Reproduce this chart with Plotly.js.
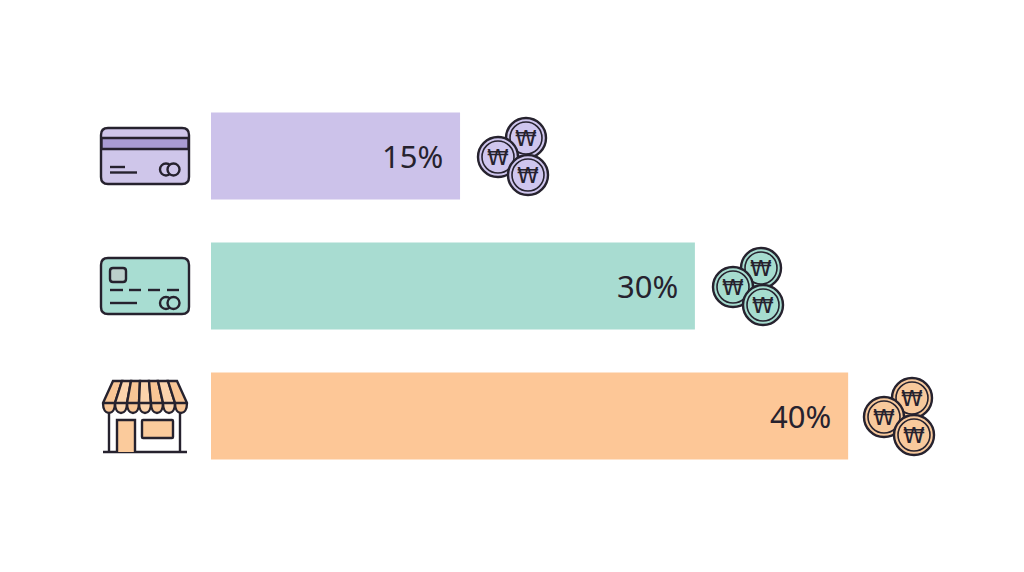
<!DOCTYPE html>
<html><head><meta charset="utf-8">
<script src="https://cdn.plot.ly/plotly-3.0.1.min.js"></script>
<style>html,body{margin:0;padding:0;background:#fff;overflow:hidden}#c{width:1024px;height:572px}</style>
</head><body><div id="c"></div>
<script>
const categories = ['purple card', 'teal card', 'store'];
const barLengths = [15.44, 30, 39.5];
const valueLabels = ['15%', '30%', '40%'];
const barColors = ['#CCC2EA', '#A8DCD1', '#FDC797'];
const coinColors = ['#CFC6EE', '#A6DCCF', '#F8C99C'];
const coinSymbol = '₩';

const W = 1024, H = 572, L = 211, T = 91, PW = 813, PH = 390, INK = '#26222E';
const px = x => (x - L) / PW;
const py = y => 1 - (y - T) / PH;
const line = (extra) => Object.assign({color: INK, width: 2.4}, extra || {});
const base = {xref: 'paper', yref: 'paper', layer: 'above'};

function path(d, fill, w) {
  return Object.assign({}, base, {type: 'path', path: d, fillcolor: fill || 'rgba(0,0,0,0)', line: line({width: w || 2.4})});
}
function pts(list) { return list.map(c => c[0] === 'Z' ? 'Z' : c[0] + c.slice(1).map((v, i) => i % 2 ? py(v) : px(v)).join(' ')).join(' '); }
function circle(cx, cy, r, fill, w) {
  return Object.assign({}, base, {type: 'circle', x0: px(cx - r), x1: px(cx + r), y0: py(cy - r), y1: py(cy + r), fillcolor: fill || 'rgba(0,0,0,0)', line: line({width: w || 2.4})});
}
function seg(x0, y0, x1, y1, w) { return path(pts([['M', x0, y0], ['L', x1, y1]]), null, w); }
function round(x0, y0, x1, y1, r, fill, w) {
  return path(pts([['M', x0 + r, y0], ['L', x1 - r, y0], ['Q', x1, y0, x1, y0 + r], ['L', x1, y1 - r], ['Q', x1, y1, x1 - r, y1], ['L', x0 + r, y1], ['Q', x0, y1, x0, y1 - r], ['L', x0, y0 + r], ['Q', x0, y0, x0 + r, y0], ['Z']]), fill, w);
}

const shapes = [];
// purple card
shapes.push(round(101, 128, 189, 184, 7, '#CFC6EA'));
shapes.push(path(pts([['M', 101.5, 138], ['L', 188.5, 138], ['L', 188.5, 149], ['L', 101.5, 149], ['Z']]), '#A99CD3'));
shapes.push(seg(110, 167, 125, 167), seg(110, 172.5, 137, 172.5));
shapes.push(circle(166, 169.5, 6), circle(173.5, 169.5, 6, '#CFC6EA'));
// teal card
shapes.push(round(101, 258, 189, 314, 7, '#A8DDD2'));
shapes.push(round(110, 268, 126, 282, 3, '#BCCFCB'));
[[110, 123], [129, 141], [148, 160], [167, 179]].forEach(d => shapes.push(seg(d[0], 290, d[1], 290)));
shapes.push(seg(110, 303, 137, 303));
shapes.push(circle(166, 303, 6), circle(173.5, 303, 6, '#A8DDD2'));
// store
shapes.push(path(pts([['M', 109, 410], ['L', 109, 452], ['M', 180, 410], ['L', 180, 452]])));
shapes.push(path(pts([['M', 103, 452], ['L', 187, 452]])));
shapes.push(path(pts([['M', 117, 452], ['L', 117, 420], ['L', 135, 420], ['L', 135, 452]]), '#FBCB9C'));
shapes.push(round(142, 420, 173, 438, 1, '#FBCB9C'));
const topX = [113, 122, 131, 140, 149, 158, 168, 177];
const midX = [103, 115, 127, 139, 151, 163, 175, 187];
for (let i = 0; i < 7; i++) {
  const a = midX[i], b = midX[i + 1];
  shapes.push(path(pts([['M', topX[i], 381], ['L', topX[i + 1], 381], ['L', b, 403], ['C', b, 410, b - 3, 413, (a + b) / 2, 413], ['C', a + 3, 413, a, 410, a, 403], ['Z']]), i % 2 ? '#FBD3AC' : '#F8C595'));
}
shapes.push(seg(103, 403, 187, 403));

// coins
const coinStart = [460, 695, 848];
const rowY = [155.5, 285.5, 415.5];
const coinOffsets = [[66, -17.5, 20], [38, 1.5, 20], [68, 19.5, 20]];
const annotations = [];
categories.forEach((c, i) => {
  annotations.push({xref: 'x', yref: 'y', x: barLengths[i], y: c, text: valueLabels[i], showarrow: false, xanchor: 'right', yanchor: 'middle', xshift: -15, font: {family: '"Noto Sans", sans-serif', size: 31, color: '#26222E'}});
  coinOffsets.forEach(o => {
    const shift = i === 2 ? -2 : 0;
    const cx = coinStart[i] + o[0] + shift, cy = rowY[i] + o[1];
    shapes.push(circle(cx, cy, o[2], coinColors[i]), circle(cx, cy, o[2] - 4, coinColors[i], 1.6));
    annotations.push({xref: 'paper', yref: 'paper', x: px(cx), y: py(cy), text: coinSymbol, showarrow: false, xanchor: 'center', yanchor: 'middle', font: {family: '"DejaVu Sans", sans-serif', size: 22, color: INK}});
  });
});

const trace = {type: 'bar', orientation: 'h', y: categories, x: barLengths, marker: {color: barColors, line: {width: 0}}, hoverinfo: 'skip'};
const layout = {
  width: W, height: H, paper_bgcolor: '#fff', plot_bgcolor: '#fff', showlegend: false,
  margin: {l: L, r: W - L - PW, t: T, b: H - T - PH, pad: 0},
  bargap: 0.331,
  xaxis: {range: [0, PW / 16.13], visible: false, fixedrange: true},
  yaxis: {type: 'category', categoryorder: 'array', categoryarray: categories, autorange: false, range: [2.5, -0.5], visible: false, fixedrange: true},
  shapes, annotations
};
Plotly.newPlot('c', [trace], layout, {displayModeBar: false, staticPlot: true});
</script></body></html>
